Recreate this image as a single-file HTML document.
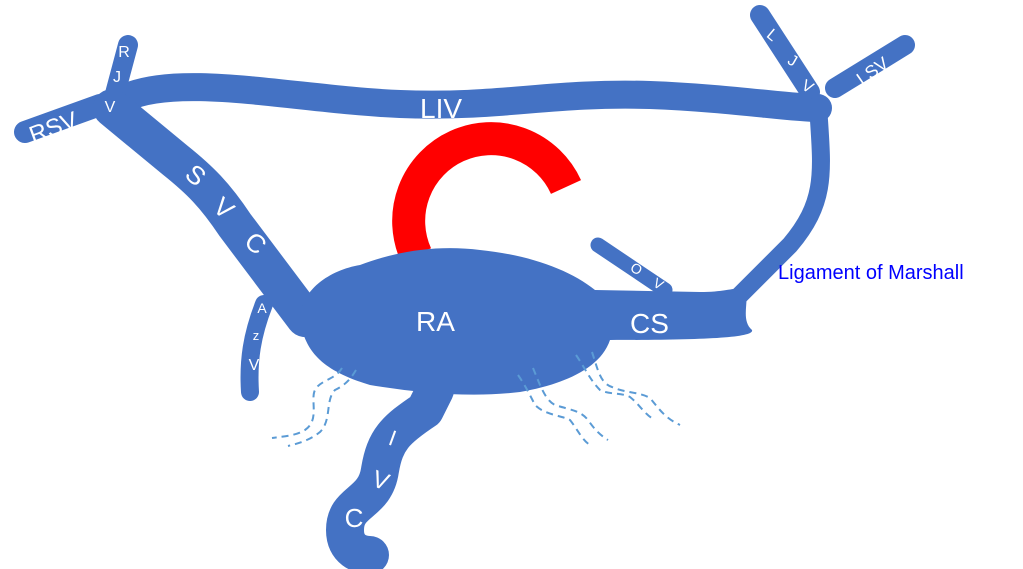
<!DOCTYPE html>
<html><head><meta charset="utf-8"><style>html,body{margin:0;padding:0;background:#fff}svg{display:block}</style></head>
<body>
<svg width="1023" height="569" viewBox="0 0 1023 569" xmlns="http://www.w3.org/2000/svg" font-family="Liberation Sans, sans-serif">
<g fill="none" stroke="#4472C4" stroke-linecap="round" stroke-linejoin="round">
 <path d="M125,98 C180,72 300,100 400,104 C500,108 550,92 650,95 C730,98 790,108 818,108" stroke-width="28"/>
 <path d="M128,45 L112,105" stroke-width="20"/>
 <path d="M25,132 L100,105" stroke-width="22"/>
 <path d="M112,108 L175,160 C200,180 215,195 235,225 L305,318" stroke-width="38"/>
 <path d="M264,304 C252,335 248,360 250,392" stroke-width="18"/>
 <path d="M598,245 L665,290" stroke-width="15"/>
 <path d="M760,15 L810,92" stroke-width="20"/>
 <path d="M905,45 L835,88" stroke-width="20"/>
 <path d="M818,105 C822,170 828,200 790,245 L740,295" stroke-width="18"/>
 <path d="M435,390 L425,410 C395,430 385,440 380,470 C375,505 345,500 345,530 C345,550 360,555 370,555" stroke-width="38"/>
</g>
<path d="M566,187 A80,80 0 0 0 416,255" fill="none" stroke="#FF0000" stroke-width="33"/>
<g fill="#4472C4">
 <path d="M300,320 C300,290 330,270 360,265 C400,250 440,245 480,250 C530,255 570,270 595,290 L700,292 C730,292 740,285 745,290 C750,300 740,320 752,330 C755,338 700,340 610,340 C600,370 560,385 520,392 C470,398 420,393 370,385 C320,370 305,350 300,320Z"/>
</g>
<g fill="none" stroke="#5B9BD5" stroke-width="2" stroke-dasharray="7,5">
 <path d="M342,368 C335,380 320,380 315,390 C310,400 320,420 305,430 C295,436 285,436 272,438"/>
 <path d="M356,370 C350,380 345,385 335,390 C325,400 332,420 320,432 C310,440 300,443 288,446"/>
 <path d="M518,375 C525,385 530,395 535,405 C545,415 560,415 570,420 C578,430 582,440 590,445"/>
 <path d="M533,368 C540,385 545,400 555,405 C570,410 580,410 588,420 C595,430 600,435 608,440"/>
 <path d="M576,355 C585,368 590,380 600,390 C610,395 620,392 630,397 C640,405 645,415 655,420"/>
 <path d="M592,352 C598,370 600,383 612,387 C625,393 640,392 650,398 C660,410 665,418 680,425"/>
</g>
<g fill="#fff" font-size="28">
 <text x="416" y="331">RA</text>
 <text x="630" y="333">CS</text>
 <text x="420" y="118">LIV</text>
</g>
<g fill="#fff" text-anchor="middle">
 <text font-size="24" transform="translate(56,135) rotate(-20)">RSV</text>
 <text x="124" y="57" font-size="16">R</text>
 <text x="117" y="82" font-size="16">J</text>
 <text x="110" y="112" font-size="16">V</text>
 <text font-size="26" transform="translate(190,182) rotate(40)">S</text>
 <text font-size="26" transform="translate(218,215) rotate(40)">V</text>
 <text font-size="26" transform="translate(250,250) rotate(40)">C</text>
 <text x="262" y="313" font-size="14">A</text>
 <text x="256" y="340" font-size="13">z</text>
 <text x="254" y="370" font-size="16">V</text>
 <text font-size="16" transform="translate(769,39) rotate(40)">L</text>
 <text font-size="16" transform="translate(790,65) rotate(30)">J</text>
 <text font-size="16" transform="translate(805,91) rotate(30)">V</text>
 <text font-size="18" transform="translate(876,76) rotate(-35)">LSV</text>
 <text font-size="14" transform="translate(634,273) rotate(30)">O</text>
 <text font-size="14" transform="translate(656,288) rotate(30)">V</text>
 <text font-size="22" transform="translate(390,445) rotate(20)">I</text>
 <text font-size="24" transform="translate(378,488) rotate(20)">V</text>
 <text x="354" y="527" font-size="26">C</text>
</g>
<text x="778" y="279" font-size="20" fill="#0000FF">Ligament of Marshall</text>
</svg>
</body></html>
